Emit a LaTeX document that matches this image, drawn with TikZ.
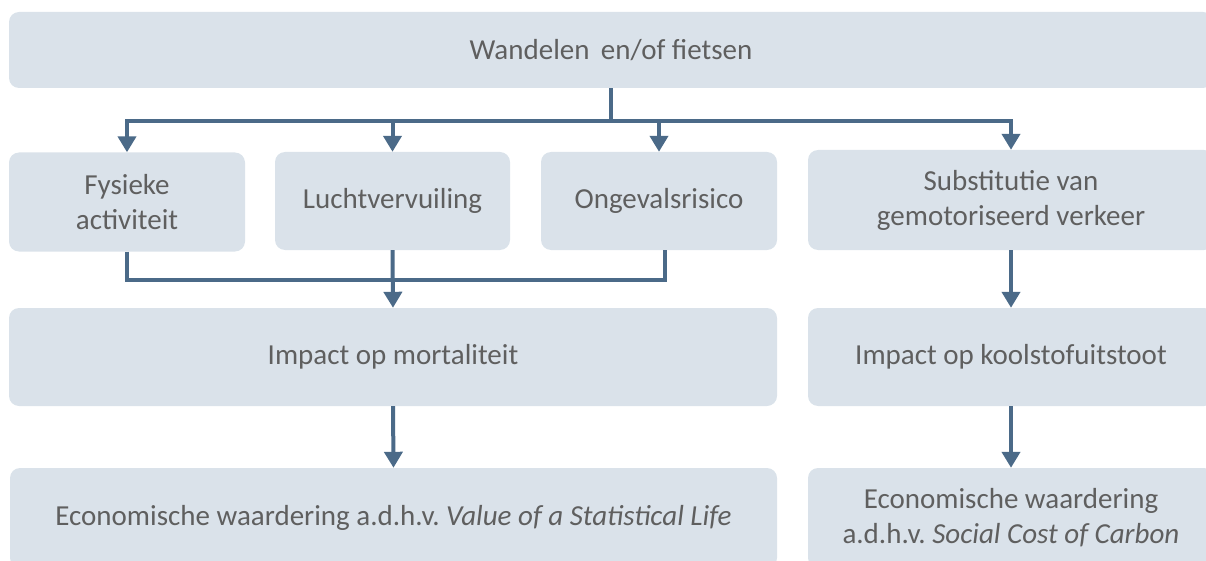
\documentclass[tikz,border=0pt]{standalone}
\usepackage{fontspec}
\setmainfont{Carlito}
\usepackage{tikz}
\usetikzlibrary{positioning}
\usetikzlibrary{arrows.meta}
\definecolor{boxfill}{HTML}{DAE2EA}
\definecolor{arrowcol}{HTML}{4B6A88}
\definecolor{textcol}{HTML}{5F5F5F}
\frenchspacing
\tikzset{
  box/.style={fill=boxfill, rounded corners=10pt, align=center, text=textcol,
    font=\fontsize{29}{35}\selectfont, inner sep=0pt},
  link/.style={draw=arrowcol, line width=4pt},
  arr/.style={link, -{Triangle[width=18pt,length=16pt]}}
}

\begin{document}
\begin{tikzpicture}[x=1pt,y=-1pt]
\clip (0,0) rectangle (1206,561);
% Level 1
\node [box, minimum width=1204pt, minimum height=76pt] at (611,50) (1walk) {Wandelen\, en/of fietsen};

% Level 2
\node [box, minimum width=236pt, minimum height=99pt] at (127,202) (2fys) {Fysieke\\activiteit};
\node [box, minimum width=235pt, minimum height=98pt] at (392.5,201) (2lucht) {Luchtvervuiling};
\node [box, minimum width=236pt, minimum height=98pt] at (659,201) (2ongeval) {Ongevalsrisico};
\node [box, minimum width=406pt, minimum height=100pt] at (1011,200) (2subst) {Substitutie van\\gemotoriseerd verkeer};

% Levels 3 and 4
\node [box, minimum width=768pt, minimum height=98pt] at (393,357) (3mort) {Impact op mortaliteit};
\node [box, minimum width=406pt, minimum height=98pt] at (1011,357) (3co2) {Impact op koolstofuitstoot};
\node [box, minimum width=767pt, minimum height=100pt] at (393.5,518) (4vsl) {Economische waardering a.d.h.v. \textit{Value of a Statistical Life}};
\node [box, minimum width=406pt, minimum height=100pt] at (1011,518) (4scc) {Economische waardering\\a.d.h.v. \textit{Social Cost of Carbon}};

% Connections
\coordinate (split) at (611,121);
\coordinate (join) at (394,280);
\draw [link] (1walk.south) -- (split);
\draw [arr] (split) -| (2fys.north);
\draw [arr] (split) -| (2lucht.north);
\draw [arr] (split) -| (2ongeval.north);
\draw [arr] (split) -| (2subst.north);
\draw [link] (2fys.south) |- (join);
\draw [link] ([xshift=6pt]2ongeval.south) |- (join);
\draw [arr] (2lucht.south) -- (3mort.north);
\draw [arr] (2subst.south) -- (3co2.north);
\draw [arr] (3mort.south) -- (4vsl.north);
\draw [arr] (3co2.south) -- (4scc.north);

\end{tikzpicture}
\end{document}
